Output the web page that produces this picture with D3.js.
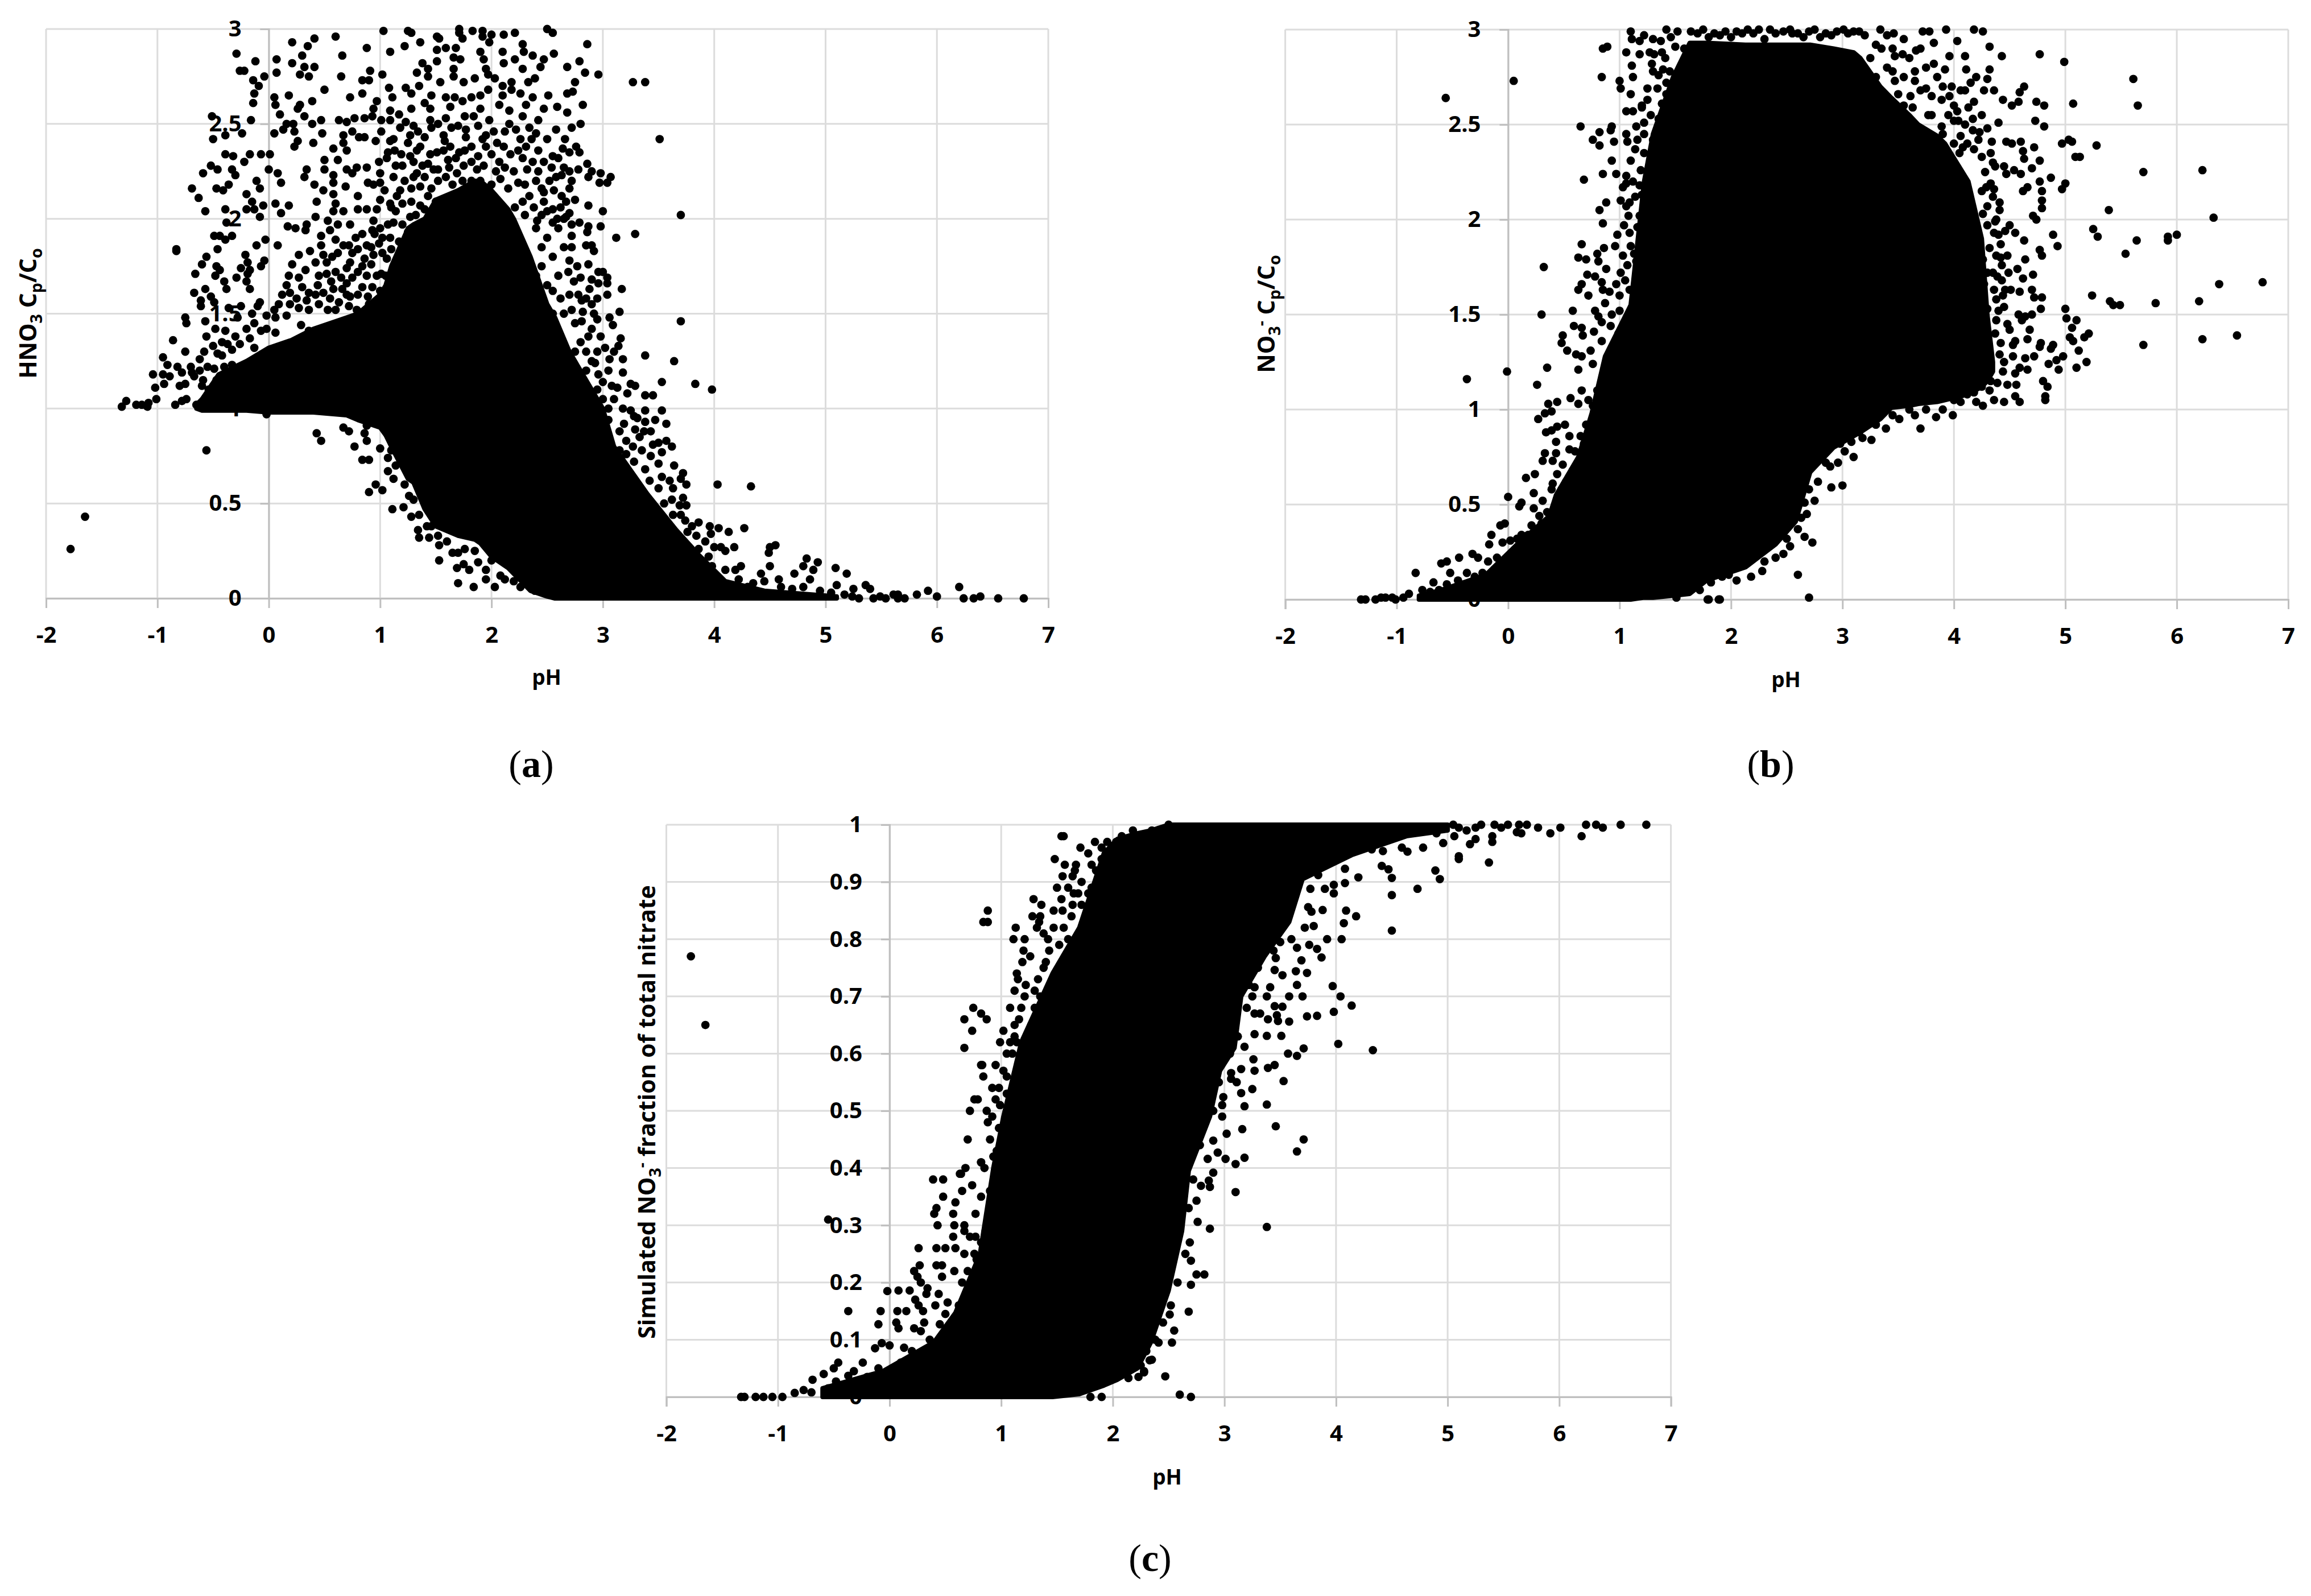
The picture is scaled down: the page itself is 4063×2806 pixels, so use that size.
<!DOCTYPE html>
<html>
<head>
<meta charset="utf-8">
<script src="https://cdn.jsdelivr.net/npm/d3@7"></script>
<style>
  body { margin: 0; background: #fff; }
  .tick text { font-family: "Open Sans", sans-serif; font-weight: 700; font-size: 40px; fill: #000; }
  .title { font-family: "Open Sans", sans-serif; font-weight: 700; fill: #000; }
  .caption { font-family: "Liberation Serif", serif; font-size: 68px; fill: #000; }
</style>
</head>
<body>
<svg width="4063" height="2806"></svg>
<script>
// tick labels
var xTicks = [-2, -1, 0, 1, 2, 3, 4, 5, 6, 7];
var ratioTicks = [0, 0.5, 1, 1.5, 2, 2.5, 3];
var fractionTicks = [0, 0.1, 0.2, 0.3, 0.4, 0.5, 0.6, 0.7, 0.8, 0.9, 1];

// solid black core of each cloud, where the dots merge: pH, lower edge, upper edge
var aCorePH = [-0.65, -0.6, -0.45, -0.2, 0, 0.2, 0.4, 0.7, 0.8, 1.0, 1.05, 1.1, 1.25, 1.3, 1.4, 1.5, 1.7, 1.85, 1.9, 2.0, 2.15, 2.2, 2.35, 2.5, 2.57, 2.7, 3.0, 3.1, 3.4, 3.66, 3.86, 4.1, 4.45, 5.1];
var aCoreLow = [1.0, 0.99, 0.99, 0.99, 0.98, 0.98, 0.98, 0.965, 0.94, 0.9, 0.86, 0.8, 0.63, 0.61, 0.47, 0.38, 0.33, 0.31, 0.29, 0.22, 0.16, 0.13, 0.04, 0.01, 0, 0, 0, 0, 0, 0, 0, 0, 0, 0];
var aCoreHigh = [1.02, 1.05, 1.18, 1.25, 1.32, 1.36, 1.42, 1.48, 1.5, 1.6, 1.65, 1.75, 1.95, 1.97, 2.0, 2.1, 2.15, 2.2, 2.2, 2.15, 2.05, 2.0, 1.8, 1.55, 1.48, 1.3, 1.0, 0.8, 0.55, 0.36, 0.23, 0.09, 0.04, 0.01];

var bCorePH = [-0.8, -0.6, -0.2, 0.08, 0.37, 0.43, 0.63, 0.75, 0.87, 1.10, 1.22, 1.3, 1.48, 1.63, 1.78, 2.13, 2.4, 2.58, 2.71, 2.92, 3.1, 3.16, 3.34, 3.44, 3.6, 3.68, 3.85, 3.92, 4.13, 4.25, 4.3, 4.35];
var bCoreLow = [0, 0, 0, 0, 0, 0, 0, 0, 0, 0, 0.01, 0.01, 0.02, 0.03, 0.1, 0.17, 0.29, 0.41, 0.67, 0.8, 0.86, 0.88, 0.95, 1.01, 1.02, 1.03, 1.04, 1.05, 1.08, 1.12, 1.15, 1.2];
var bCoreHigh = [0.02, 0.05, 0.13, 0.29, 0.44, 0.55, 0.75, 0.98, 1.28, 1.55, 2.2, 2.45, 2.75, 2.93, 2.93, 2.92, 2.92, 2.92, 2.92, 2.9, 2.88, 2.85, 2.7, 2.64, 2.55, 2.5, 2.44, 2.4, 2.2, 1.9, 1.5, 1.25];

var cCorePH = [-0.6, -0.06, 0.4, 0.59, 0.81, 0.93, 1.02, 1.18, 1.46, 1.7, 1.92, 2.04, 2.22, 2.34, 2.5, 2.62, 2.68, 2.87, 2.96, 3.09, 3.15, 3.36, 3.58, 3.7, 4.14, 4.63, 5.0];
var cCoreLow = [0, 0, 0, 0, 0, 0, 0, 0, 0, 0.005, 0.02, 0.03, 0.05, 0.095, 0.186, 0.29, 0.395, 0.49, 0.57, 0.61, 0.7, 0.77, 0.83, 0.905, 0.947, 0.98, 0.99];
var cCoreHigh = [0.015, 0.045, 0.096, 0.147, 0.25, 0.4, 0.49, 0.62, 0.74, 0.82, 0.95, 0.975, 0.985, 0.99, 1, 1, 1, 1, 1, 1, 1, 1, 1, 1, 1, 1, 1];

// separate dots around the core: [pH, value]
var aPoints = [[-0.29,2.87],[-0.12,2.83],[-0.26,2.78],[-0.22,2.78],[-0.04,2.75],[-0.14,2.73],[-0.09,2.70],[-0.13,2.66],[-0.14,2.61],[-0.16,2.52],[-0.51,2.54],[-0.50,2.42],[-0.39,2.44],[-0.24,2.45],[-0.39,2.34],[-0.32,2.33],[-0.22,2.30],[-0.17,2.34],[-0.07,2.34],[0.01,2.34],[-0.52,2.28],[-0.46,2.26],[-0.59,2.24],[-0.33,2.26],[-0.30,2.23],[-0.36,2.18],[-0.47,2.16],[-0.41,2.15],[0,2.26],[0.08,2.24],[0.11,2.19],[-0.11,2.20],[-0.08,2.16],[-0.69,2.16],[-0.63,2.11],[-0.57,2.04],[-0.39,2.05],[-0.20,2.13],[-0.15,2.09],[-0.20,2.05],[-0.13,2.05],[-0.08,2.01],[-0.05,2.07],[0.06,2.08],[0.11,2.03],[0.18,2.07],[-0.38,1.98],[-0.49,1.91],[-0.44,1.91],[-0.39,1.89],[-0.33,1.91],[-0.83,1.84],[-0.83,1.83],[-0.46,1.84],[-0.11,1.86],[-0.03,1.89],[0.08,1.86],[-0.56,1.80],[-0.60,1.76],[-0.66,1.71],[-0.47,1.75],[-0.44,1.73],[-0.48,1.70],[-0.21,1.81],[-0.19,1.77],[-0.25,1.74],[-0.17,1.73],[-0.19,1.71],[-0.04,1.78],[-0.07,1.75],[-0.29,1.69],[-0.40,1.67],[-0.20,1.67],[-0.17,1.63],[-0.38,1.63],[-0.57,1.63],[-0.67,1.61],[-0.52,1.59],[-0.61,1.57],[-0.61,1.54],[-0.49,1.56],[-0.08,1.56],[-0.36,1.53],[-0.25,1.54],[-0.75,1.48],[-0.74,1.45],[-0.57,1.46],[-0.39,1.41],[-0.56,1.38],[-0.86,1.36],[-0.75,1.30],[-0.37,1.34],[-0.26,1.34],
[0.07,2.84],[0.07,2.77],[0.21,2.93],[0.41,2.95],[0.35,2.91],[0.30,2.86],[0.21,2.82],[0.32,2.80],[0.41,2.80],[0.28,2.76],[0.36,2.75],[0.60,2.96],[0.66,2.86],[0.65,2.75],[0.88,2.90],[0.91,2.78],[0.84,2.73],[0.90,2.73],[1.03,2.99],[1.09,2.88],[1.02,2.76],[0.50,2.68],[0.18,2.65],[0.05,2.64],[0.06,2.60],[0.10,2.55],[0.39,2.62],[0.28,2.60],[0.26,2.58],[0.32,2.54],[0.73,2.64],[0.84,2.66],[0.97,2.62],[0.94,2.58],[1.08,2.69],[1.11,2.64],[1.09,2.57],[0.39,2.50],[0.47,2.52],[0.63,2.52],[0.70,2.51],[0.77,2.53],[0.86,2.53],[0.93,2.54],[1.01,2.52],[1.09,2.52],[0.16,2.50],[0.22,2.50],[0.05,2.45],[0.13,2.47],[0.23,2.46],[0.48,2.45],[0.26,2.41],[0.23,2.38],[0.40,2.40],[0.67,2.44],[0.67,2.40],[0.75,2.46],[0.81,2.43],[0.86,2.43],[0.96,2.41],[1.01,2.46],[0.58,2.37],[0.70,2.36],[0.50,2.31],[0.62,2.31],[0.50,2.26],[0.34,2.26],[0.32,2.22],[0.58,2.23],[0.70,2.26],[0.79,2.27],[0.88,2.27],[0.75,2.24],[0.99,2.30],[1.00,2.24],[0.58,2.19],[0.41,2.18],[0.49,2.15],[0.69,2.17],[0.89,2.19],[0.94,2.18],[1.0,2.19],[0.58,2.13],[0.43,2.09],[0.60,2.08],[0.80,2.12],[0.58,2.04],[0.67,2.04],[0.80,2.05],[0.88,2.05],[0.97,2.05],[0.42,2.01],[0.53,1.99],[0.34,1.97],[0.17,1.96],[0.24,1.95],[0.33,1.94],
[1.25,2.99],[1.28,2.98],[1.22,2.91],[1.36,2.93],[1.51,2.96],[1.53,2.95],[1.71,3.0],[1.71,2.98],[1.74,2.95],[1.83,2.99],[1.92,2.99],[1.92,2.96],[2.0,2.97],[1.98,2.93],[2.11,2.97],[2.21,2.98],[2.50,3.0],[2.55,2.98],[1.59,2.90],[1.51,2.89],[1.68,2.90],[1.90,2.88],[2.10,2.88],[2.28,2.92],[2.29,2.88],[2.37,2.86],[2.56,2.87],[2.47,2.84],[1.38,2.82],[1.51,2.83],[1.66,2.85],[1.72,2.84],[1.93,2.84],[2.11,2.82],[2.21,2.84],[2.44,2.80],[2.68,2.80],[2.28,2.79],[1.33,2.77],[1.43,2.79],[1.43,2.75],[1.66,2.79],[1.66,2.75],[1.95,2.79],[1.85,2.74],[1.97,2.76],[2.03,2.74],[2.18,2.72],[2.33,2.72],[2.39,2.74],[1.54,2.72],[1.75,2.72],[1.23,2.69],[1.35,2.70],[1.28,2.66],[1.97,2.68],[1.90,2.65],[2.10,2.70],[2.18,2.68],[2.10,2.65],[2.26,2.66],[1.46,2.65],[1.59,2.64],[1.67,2.64],[1.82,2.64],[1.40,2.61],[1.63,2.59],[1.74,2.62],[2.37,2.64],[2.51,2.65],[2.68,2.66],[1.90,2.58],[2.07,2.60],[2.16,2.57],[2.31,2.60],[2.47,2.58],[2.59,2.59],[2.68,2.56],[1.28,2.58],[1.17,2.55],[1.45,2.58],[1.45,2.52],[1.59,2.53],[1.76,2.54],[1.84,2.54],[1.98,2.52],[2.16,2.50],[2.28,2.54],[2.42,2.52],[1.23,2.51],[1.30,2.49],[1.46,2.48],[1.64,2.48],[1.77,2.47],[2.34,2.48],[1.27,2.44],[1.40,2.43],[1.57,2.44],[1.77,2.43],[1.95,2.44],[2.02,2.46],[2.26,2.42],[2.36,2.42],[1.09,2.41],[1.12,2.42],[1.33,2.36],[1.63,2.38],[1.82,2.38],[2.11,2.38],[2.64,2.37],[2.31,2.38],[1.07,2.35],[1.19,2.34],[1.51,2.35],[1.71,2.35],[1.95,2.38],[2.55,2.33],[1.06,2.32],[1.14,2.28],[1.38,2.28],[1.61,2.31],[1.82,2.30],[2.28,2.32],[2.37,2.30],[2.47,2.30],[1.33,2.24],[1.48,2.26],[1.69,2.24],[2.54,2.27],[2.65,2.27],[1.22,2.20],[1.40,2.22],[1.59,2.22],[1.82,2.20],[2.24,2.19],[2.52,2.20],[2.63,2.23],[1.28,2.16],[1.46,2.16],[1.04,2.15],[1.43,2.12],[2.34,2.12],[2.47,2.14],[2.63,2.12],[1.15,2.12],[1.28,2.09],[1.50,2.09],[1.59,2.09],[1.09,2.08],[1.36,2.07],[2.28,2.09],[2.21,2.06],[2.47,2.09],[2.67,2.09],[1.14,2.04],[1.27,2.01],[2.50,2.04],[2.41,1.99],[2.59,2.00],[2.67,2.01],
[0.62,1.97],[0.73,1.97],[0.94,1.99],[1.07,1.97],[1.2,1.97],[0.84,1.92],[0.99,1.87],[1.09,1.90],[0.93,1.94],[0.47,1.91],[0.47,1.86],[0.6,1.89],[0.67,1.86],[0.88,1.86],[1.25,1.93],[0.37,1.83],[0.49,1.81],[0.57,1.80],[0.27,1.81],[0.21,1.76],[0.75,1.82],[0.86,1.79],[0.94,1.81],[1.06,1.79],[0.73,1.77],[0.84,1.75],[1.01,1.71],[0.18,1.70],[0.27,1.69],[0.52,1.71],[0.65,1.69],[0.75,1.69],[0.88,1.70],[0.16,1.65],[0.56,1.67],[0.19,1.61],[0.44,1.65],[0.66,1.63],[0.84,1.64],[0.36,1.61],[0.49,1.61],[0.89,1.59],[0.34,1.57],[0.09,1.55],[0.19,1.55],[0.27,1.53],[0.45,1.55],[0.63,1.56],[0.73,1.59],[0.79,1.52],[-0.10,1.54],[-0.02,1.49],[0.06,1.48],[0.16,1.49],[0.36,1.52],[0.53,1.52],[-0.13,1.45],[-0.07,1.41],[0.06,1.40],[0.29,1.44],[0.49,1.38],[0.36,1.41],[-0.17,1.37],[-0.46,1.29],[-0.33,1.31],[-0.49,1.21],[-0.33,1.23],[-0.13,1.32],
[-0.95,1.27],[-0.91,1.23],[-0.82,1.22],[-0.78,1.19],[-1.04,1.18],[-0.95,1.18],[-0.89,1.17],[-0.94,1.13],[-1.02,1.11],[-0.80,1.12],[-0.75,1.13],[-0.69,1.19],[-0.62,1.20],[-0.67,1.17],[-0.59,1.15],[-1.01,1.05],[-1.28,1.04],[-1.32,1.01],[-1.19,1.02],[-1.14,1.02],[-1.09,1.01],[-1.08,1.03],[-0.84,1.02],[-0.78,1.04],[-0.74,1.05],[-0.65,1.02],[-0.02,0.97],[-0.56,0.78],[-1.65,0.43],[-1.78,0.26],
[0.43,0.87],[0.47,0.83],[0.67,0.90],[0.72,0.88],[0.88,0.91],[0.86,0.87],[0.88,0.83],[0.77,0.80],[0.84,0.73],[0.90,0.73],[1.0,0.79],[1.07,0.74],[1.07,0.67],[1.12,0.63],[1.14,0.70],[1.22,0.76],[0.96,0.60],[0.90,0.56],[1.02,0.57],[1.11,0.47],[1.21,0.48],[1.26,0.54],[1.28,0.43],[1.34,0.36],[1.35,0.32],[1.44,0.32],[1.53,0.28],[1.65,0.24],[1.53,0.20],[1.69,0.16],[1.70,0.08],[1.84,0.06],[2.03,0.06],[1.85,0.25],[1.80,0.15],[1.95,0.15],[2.26,0.06],[2.39,0.04],[1.46,0.38],[1.58,0.46],[1.76,0.26],
[2.86,2.92],[2.79,2.83],[2.84,2.77],[2.96,2.76],[2.75,2.72],[2.73,2.67],[3.27,2.72],[3.38,2.72],[3.51,2.42],[2.79,2.35],[2.86,2.29],[2.90,2.25],[2.87,2.22],[2.98,2.24],[2.97,2.19],[3.07,2.22],[3.04,2.19],[2.87,2.07],[3.0,2.04],[3.70,2.02],[2.79,1.98],[2.72,1.97],[2.87,1.96],[2.98,1.96],[2.86,1.93],[3.12,1.90],[3.29,1.92],[2.72,1.91],[2.85,1.86],[2.90,1.86],[2.92,1.83],[2.72,1.85],[2.77,1.75],[2.87,1.76],[2.96,1.72],[3,1.72],[2.69,1.72],[2.80,1.69],[2.74,1.67],[3.04,1.69],[2.96,1.66],[2.88,1.63],[3.04,1.66],[3.17,1.63],[3.04,1.60],[2.81,1.57],[2.82,1.51],[2.92,1.50],[3.15,1.51],[3.06,1.48],[2.95,1.47],[3.09,1.44],[2.81,1.46],[3.70,1.46],[2.90,1.42],[3.16,1.37],[2.87,1.38],[3.14,1.33],[3.38,1.28],[3.06,1.26],[3.18,1.26],[3.64,1.25],[2.93,1.24],[3.05,1.20],[3.18,1.19],[2.96,1.18],[3.53,1.14],[3.83,1.13],[3.98,1.10],[3.25,1.13],[3.13,1.11],[3.29,1.12],[3.38,1.07],[3.45,1.07],[3.22,1.08],[3.25,0.99],[3.38,0.99],[3.53,0.99],[3.31,0.95],[3.47,0.94],[3.57,0.92],[3.19,0.92],[3.29,0.89],[3.37,0.88],[3.33,0.85],[3.21,0.83],[3.45,0.81],[3.57,0.83],[3.62,0.80],[3.53,0.77],[3.27,0.80],[3.43,0.75],[3.21,0.76],[3.13,0.71],[3.50,0.71],[3.64,0.70],[3.38,0.68],[3.72,0.66],[3.22,0.66],[3.53,0.64],[3.70,0.63],[3.75,0.60],[4.03,0.60],[4.33,0.59],[3.63,0.58],[3.72,0.53],[3.69,0.49],[3.75,0.49],[3.63,0.44],[3.74,0.41],[3.86,0.40],[3.96,0.38],[4.04,0.37],[3.97,0.34],[4.13,0.35],[4.27,0.37],[3.76,0.35],[3.84,0.33],[3.86,0.26],[4.18,0.27],[4.06,0.27],[4.10,0.25],[4.55,0.28],[4.50,0.27],[4.49,0.24],[3.95,0.22],[4.24,0.17],[4.50,0.17],[4.19,0.15],[4.42,0.13],[4.83,0.21],[4.80,0.17],[4.93,0.19],[4.89,0.15],[5.09,0.16],[5.19,0.13],[4.72,0.13],[4.86,0.10],[4.58,0.10],[5.10,0.07],[5.25,0.05],[5.36,0.07],[5.40,0.05],[5.92,0.04],[6.20,0.06],[5.82,0.02],[5.17,0.02],[5.24,0.01],[5.30,0],[5.43,0],[5.49,0.01],[5.54,0],[5.61,0.02],[5.65,0.02],[5.65,0],[5.71,0],[6.0,0.01],[6.24,0],[6.33,0],[6.39,0.01],[6.55,0],[6.78,0],
[2.4,1.95],[2.45,1.85],[2.5,1.9],[2.55,1.8],[2.6,1.95],[2.65,1.85],[2.7,1.78],[2.4,1.7],[2.5,1.65],[2.6,1.7],[2.7,1.6],[2.45,1.55],[2.55,1.5],[2.65,1.5],[2.75,1.45],[2.8,1.35],[2.85,1.3],[2.9,1.25],[2.75,1.3],[2.95,1.1],[3.0,1.05],[3.05,1.0],[2.65,2.0],[2.55,2.05]];

// dots of the busier fringe, estimated where they crowd together
var aMorePoints = [[1.18,2.48],[1.25,2.40],[1.34,2.46],[1.52,2.50],[1.58,2.41],[1.70,2.49],[1.88,2.49],[1.92,2.42],[2.05,2.40],[2.12,2.46],[2.22,2.47],[2.40,2.45],[2.50,2.42],[2.58,2.47],[2.66,2.42],[1.13,2.36],[1.27,2.33],[1.36,2.38],[1.45,2.34],[1.57,2.36],[1.68,2.32],[1.76,2.36],[1.88,2.33],[2.0,2.34],[2.07,2.30],[2.17,2.34],[2.24,2.36],[2.42,2.36],[2.6,2.32],[2.7,2.35],[1.2,2.28],[1.3,2.30],[1.43,2.29],[1.52,2.26],[1.62,2.27],[1.75,2.28],[1.87,2.26],[1.93,2.28],[2.04,2.25],[2.12,2.27],[2.2,2.25],[2.32,2.26],[2.42,2.25],[2.58,2.22],[2.7,2.25],[1.12,2.22],[1.18,2.15],[1.3,2.22],[1.36,2.17],[1.52,2.2],[1.65,2.18],[1.74,2.2],[1.9,2.2],[2.0,2.18],[2.08,2.21],[2.15,2.16],[2.3,2.18],[2.4,2.2],[2.45,2.16],[2.56,2.15],[2.7,2.16],[1.0,2.1],[1.1,2.06],[1.2,2.08],[1.32,2.02],[1.4,2.05],[2.38,2.06],[2.3,2.02],[2.45,2.02],[2.55,1.98],[2.62,2.06],[2.7,2.03],[2.75,2.1],[2.72,2.2],[2.78,2.26],[2.76,2.38],[2.72,2.48],[2.8,2.5],[2.82,2.6],[1.0,1.95],[1.12,1.98],[1.02,1.9],[1.17,1.88],[0.95,1.92],[0.78,1.9],[0.55,1.94],[0.72,1.86],[0.62,1.82],[0.8,1.84],[0.92,1.85],[1.02,1.82],[1.1,1.84],[0.42,1.77],[0.52,1.77],[0.7,1.74],[0.8,1.72],[0.92,1.76],[0.97,1.7],[1.05,1.7],[0.33,1.73],[0.45,1.7],[0.6,1.72],[0.7,1.66],[0.58,1.63],[0.93,1.64],[1.0,1.62],[0.3,1.64],[0.42,1.6],[0.55,1.58],[0.7,1.6],[0.8,1.6],[0.12,1.6],[0.25,1.58],[0.05,1.52],[0.9,1.55],[0.6,1.52],[0.72,1.54],[-0.28,1.48],[-0.2,1.42],[-0.3,1.38],[-0.42,1.35],[-0.15,1.5],[-0.02,1.42],[-0.48,1.42],[-0.58,1.3],[-0.5,1.33],[-0.62,1.26],[-0.7,1.22],[-0.55,1.22],[-0.6,1.12],[-0.54,1.1],[-0.47,1.15],[-0.4,1.22],[-0.42,1.28],[2.45,1.75],[2.55,1.62],[2.62,1.58],[2.72,1.52],[2.78,1.6],[2.85,1.58],[2.9,1.68],[2.95,1.58],[2.9,1.55],[2.98,1.38],[3.02,1.32],[2.95,1.3],[3.1,1.3],[2.85,1.2],[3.0,1.14],[3.08,1.12],[3.1,1.05],[3.18,1.0],[3.05,0.94],[3.15,0.88],[3.28,0.96],[3.38,0.93],[3.43,0.88],[3.15,0.78],[3.28,0.72],[3.35,0.78],[3.5,0.82],[3.42,0.62],[3.5,0.58],[3.6,0.62],[3.55,0.5],[3.62,0.52],[3.7,0.44],[3.8,0.38],[3.92,0.3],[4.0,0.27],[3.98,0.17],[4.1,0.15],[4.22,0.1],[4.35,0.08],[4.45,0.09],[4.6,0.06],[4.7,0.05],[4.8,0.06],[4.95,0.04],[5.05,0.03],[4.3,0.06],[1.3,0.52],[1.22,0.6],[1.1,0.78],[1.35,0.44],[1.42,0.38],[1.52,0.33],[1.6,0.3],[1.7,0.24],[1.75,0.18],[1.88,0.19],[2.0,0.2],[2.08,0.12],[2.12,0.1],[2.2,0.09],[1.95,0.1]];

var bPoints = [[-0.56,2.64],[0.05,2.73],[0.84,2.75],[0.85,2.90],[0.89,2.91],[1.06,2.88],[1.10,2.99],[1.11,2.95],[1.22,2.97],[1.18,2.94],[1.42,3.0],[1.64,2.99],[1.37,2.94],[1.18,2.87],[1.31,2.87],[1.41,2.85],[1.50,2.91],[1.11,2.81],[1.29,2.82],[1.39,2.79],[1.35,2.76],[1.12,2.75],[1.0,2.73],[1.01,2.69],[1.10,2.66],[1.25,2.69],[1.34,2.69],[1.42,2.72],[1.25,2.63],[1.20,2.59],[1.38,2.61],[1.48,2.60],[1.06,2.57],[1.12,2.57],[0.65,2.49],[0.82,2.46],[0.93,2.49],[0.92,2.47],[0.76,2.42],[0.82,2.39],[0.95,2.41],[1.06,2.45],[1.07,2.41],[1.15,2.49],[1.22,2.51],[1.35,2.53],[0.93,2.31],[0.85,2.24],[0.97,2.24],[0.68,2.21],[1.14,2.37],[1.10,2.31],[1.06,2.23],[1.03,2.17],[1.06,2.19],[1.19,2.26],[1.22,2.35],[0.88,2.09],[1.01,2.10],[0.82,2.05],[1.06,2.07],[1.09,2.09],[0.85,1.98],[1.04,1.97],[1.09,1.93],[0.98,1.92],[1.18,2.02],[1.20,2.13],[1.28,2.09],[0.66,1.87],[0.86,1.85],[0.96,1.86],[0.63,1.80],[0.70,1.79],[0.80,1.82],[0.81,1.78],[1.03,1.81],[1.13,1.82],[0.32,1.75],[1.07,1.76],[1.01,1.72],[0.88,1.74],[0.71,1.71],[0.78,1.70],[0.84,1.67],[0.66,1.66],[0.63,1.63],[0.97,1.66],[0.85,1.63],[0.72,1.60],[0.91,1.62],[1.09,1.63],[1.0,1.60],[0.87,1.56],[0.58,1.52],[0.30,1.50],[0.78,1.52],[0.93,1.50],[0.81,1.49],[0.84,1.46],[1.06,1.47],[0.59,1.44],[0.66,1.43],[0.92,1.44],[0.77,1.41],[1.09,1.43],[0.49,1.39],[0.67,1.39],[0.99,1.40],[0.48,1.35],[0.84,1.36],[0.53,1.31],[0.61,1.29],[0.66,1.28],[0.74,1.31],[0.76,1.24],
[-0.37,1.16],[-0.01,1.20],[0.35,1.22],[0.26,1.13],[0.63,1.21],[0.66,1.10],[0.56,1.06],[0.63,1.03],[0.44,1.04],[0.36,1.03],[0.33,0.98],[0.39,0.99],[0.27,0.95],[0.51,0.92],[0.44,0.91],[0.39,0.89],[0.34,0.88],[0.65,0.86],[0.55,0.86],[0.43,0.83],[0.33,0.77],[0.43,0.77],[0.31,0.73],[0.40,0.73],[0.55,0.79],[0.49,0.71],[0.24,0.66],[0.16,0.64],[0.44,0.66],[0.40,0.61],[0.39,0.58],[0.23,0.56],[0,0.54],[0.12,0.51],[0.10,0.49],[0.31,0.52],[0.23,0.48],[0.28,0.44],[-0.03,0.40],[-0.07,0.39],[0.21,0.39],[-0.15,0.34],[0.12,0.34],[-0.17,0.29],[0.02,0.31],[-0.05,0.30],[-0.32,0.24],[-0.44,0.22],[-0.27,0.22],[-0.55,0.20],[-0.60,0.19],[-0.18,0.20],[-0.83,0.14],[-0.52,0.14],[-0.37,0.14],[-0.23,0.14],[-0.67,0.09],[-0.77,0.05],[-0.89,0.03],[-1.32,0],[-1.28,0],[-1.19,0],[-1.14,0.01],[-1.10,0.01],[-1.04,0.01],[-1.01,0],[-0.94,0.01],[1.79,0],[1.89,0],[1.51,0.01],[1.72,0.05],[1.82,0.09],[1.92,0.12],[1.98,0.13],
[2.15,3],[2.53,3],[2.75,3],[3.01,3],[3.34,3],[3.46,2.98],[3.72,2.99],[3.78,2.99],[3.93,3],[4.18,3],[4.26,2.99],[4.32,2.91],[4.03,2.94],[3.82,2.93],[3.66,2.89],[3.54,2.87],[3.47,2.86],[3.96,2.86],[4.10,2.86],[4.43,2.86],[4.77,2.87],[4.99,2.83],[3.82,2.82],[4.32,2.79],[3.92,2.79],[4.11,2.79],[4.20,2.75],[4.30,2.74],[5.61,2.74],[5.65,2.60],[3.65,2.73],[3.47,2.73],[3.75,2.69],[3.98,2.70],[4.06,2.68],[4.27,2.68],[4.36,2.68],[4.63,2.70],[4.59,2.67],[4.44,2.63],[4.52,2.60],[4.58,2.62],[4.74,2.62],[4.81,2.60],[5.07,2.61],[3.61,2.65],[3.89,2.63],[4.18,2.62],[3.96,2.65],[3.63,2.59],[4.03,2.57],[4.13,2.59],[3.77,2.55],[4.17,2.53],[4.40,2.51],[4.73,2.52],[4.81,2.49],[3.89,2.49],[4.04,2.52],[4.17,2.47],[4.23,2.46],[4.06,2.44],[4.22,2.42],[4.47,2.41],[4.34,2.41],[4.52,2.40],[4.60,2.41],[4.97,2.40],[5.03,2.42],[5.06,2.41],[5.28,2.39],[4.72,2.38],[4.08,2.38],[4.18,2.37],[4.33,2.35],[4.62,2.36],[4.63,2.32],[5.09,2.33],[5.13,2.33],[4.25,2.33],[4.77,2.31],[4.37,2.28],[4.70,2.27],[4.45,2.28],[4.54,2.26],[4.60,2.24],[5.70,2.25],[6.23,2.26],[4.47,2.24],[4.87,2.22],[4.77,2.20],[5.0,2.19],[4.33,2.19],[4.97,2.16],[4.66,2.17],[4.62,2.15],[4.79,2.15],[4.29,2.17],[4.36,2.16],[4.79,2.10],[4.41,2.09],[4.79,2.06],[4.30,2.07],[5.39,2.05],[4.41,2.05],[4.26,2.03],[4.71,2.02],[4.74,2.0],[6.33,2.01],[4.37,1.99],[4.50,1.97],[4.20,1.95],[5.25,1.95],[4.46,1.94],[4.55,1.93],[4.89,1.92],[5.29,1.91],[6.0,1.92],[5.92,1.91],[5.64,1.89],[5.92,1.89],[4.63,1.89],[4.36,1.93],[4.22,1.90],[4.93,1.86],[4.42,1.87],[4.32,1.85],[4.77,1.84],[4.79,1.81],[5.54,1.82],[4.17,1.81],[4.38,1.81],[4.26,1.79],[4.48,1.81],[4.64,1.79],[4.22,1.78],[4.43,1.76],[4.57,1.74],[4.49,1.72],[4.71,1.71],[4.30,1.72],[4.39,1.70],[4.62,1.69],[6.77,1.67],[4.43,1.68],[6.38,1.66],[4.27,1.66],[4.70,1.63],[4.36,1.63],[4.46,1.63],[4.59,1.62],[4.51,1.63],[5.24,1.60],[4.72,1.59],[4.79,1.59],[4.44,1.60],[4.38,1.58],[5.40,1.57],[5.43,1.55],[5.49,1.55],[5.81,1.56],[6.20,1.57],[4.45,1.54],[4.78,1.53],[5.0,1.53],[4.30,1.53],[4.70,1.50],[4.64,1.49],[4.58,1.50],[5.01,1.48],[5.10,1.47],[4.61,1.47],[4.38,1.47],[5.06,1.43],[4.68,1.42],[5.21,1.40],[4.37,1.40],[5.17,1.38],[5.04,1.38],[4.66,1.37],[6.54,1.39],[6.23,1.37],[5.07,1.36],[4.55,1.36],[4.78,1.35],[4.89,1.34],[5.70,1.34],[4.77,1.33],[4.87,1.32],[5.12,1.31],[4.53,1.34],[4.41,1.29],[4.72,1.28],[4.98,1.28],[4.53,1.28],[4.64,1.27],[4.92,1.26],[5.19,1.25],[4.85,1.24],[5.10,1.22],[4.59,1.22],[4.66,1.21],[4.94,1.21],[4.44,1.20],[4.55,1.19],[4.80,1.15],[4.56,1.13],[4.39,1.14],[4.48,1.13],[4.84,1.12],[4.18,1.09],[4.32,1.10],[4.82,1.07],[4.82,1.05],[4.36,1.05],[4.45,1.04],[4.59,1.04],[4.55,1.07],[4.20,1.04],[4.26,1.02],[4.06,1.04],[3.99,0.97],[3.84,0.96],[3.70,0.90],[3.51,0.95],[3.39,0.90],[3.65,0.97],[3.26,0.84],[3.18,0.85],[3.10,0.75],[3.02,0.78],[3.0,0.60],[2.90,0.59],[2.96,0.72],[2.89,0.70],[2.75,0.52],[2.66,0.51],[2.73,0.30],[2.63,0.43],[2.66,0.33],[2.53,0.28],[2.47,0.24],[2.28,0.15],[2.60,0.13],[2.70,0.01],[1.90,0],[1.80,0],
[1.8,2.96],[1.9,2.97],[2.0,2.96],[2.1,2.98],[2.2,2.98],[2.3,2.95],[2.4,2.98],[2.47,2.99],[2.6,2.98],[2.65,2.96],[2.8,2.96],[2.85,2.98],[2.9,2.97],[2.95,2.99],[3.05,2.98],[3.1,2.99],[3.15,2.99],[3.2,2.97],[3.3,2.92],[3.4,2.97],[3.25,2.85],[3.35,2.9],[3.4,2.8],[3.45,2.78],[3.3,2.75],[3.5,2.66],[3.55,2.6],[3.4,2.5],[3.6,2.5],[3.7,2.45],[3.8,2.55],[3.9,2.45],[3.95,2.35],[4.05,2.35],[4.1,2.2],[4.05,2.1],[4.0,2.4],[3.75,2.35]];

var bMorePoints = [[1.2,2.6],[1.28,2.55],[1.22,2.45],[1.3,2.42],[1.16,2.42],[1.12,2.2],[1.18,2.18],[1.14,2.12],[1.08,2.02],[1.16,1.96],[1.1,1.86],[1.15,1.78],[1.05,1.68],[1.0,1.52],[1.02,1.38],[0.95,1.33],[0.92,1.27],[0.86,1.2],[0.8,1.1],[0.76,1.02],[0.72,1.05],[0.7,0.92],[0.68,0.82],[0.6,0.78],[0.58,0.68],[0.52,0.62],[0.48,0.58],[0.35,0.46],[0.3,0.4],[0.18,0.34],[0.08,0.32],[-0.1,0.22],[-0.12,0.16],[-0.3,0.12],[-0.45,0.1],[-0.55,0.08],[-0.62,0.05],[-0.7,0.04],[-0.75,0.02],[1.3,2.78],[1.38,2.88],[1.46,2.96],[1.52,2.99],[1.3,2.95],[1.27,2.88],[1.45,2.78],[1.48,2.7],[1.55,2.8],[1.58,2.9],[1.42,2.66],[1.55,2.68],[1.7,2.98],[1.75,3.0],[1.85,2.98],[1.95,2.99],[2.05,2.99],[2.25,3.0],[2.35,3.0],[2.55,2.98],[2.7,2.99],[3.45,2.9],[3.55,2.95],[3.6,2.85],[3.7,2.9],[3.75,2.8],[3.85,2.75],[3.55,2.75],[3.65,2.78],[3.7,2.68],[3.8,2.65],[3.9,2.7],[4.0,2.6],[4.1,2.68],[4.15,2.72],[3.95,2.55],[4.0,2.52],[4.1,2.5],[4.12,2.4],[4.25,2.55],[4.3,2.48],[4.28,2.25],[4.35,2.3],[4.25,2.15],[4.35,2.12],[4.38,2.0],[4.3,1.97],[4.4,1.92],[4.42,1.8],[4.35,1.72],[4.4,1.52],[4.48,1.45],[4.42,1.35],[4.5,1.42],[4.45,1.25],[4.33,1.15],[4.25,1.12],[4.12,1.08],[4.0,1.05],[3.9,1.0],[3.75,1.0],[3.6,1.0],[3.45,0.97],[3.3,0.92],[3.15,0.88],[3.08,0.83],[2.98,0.82],[2.85,0.72],[2.78,0.62],[2.7,0.58],[2.68,0.45],[2.6,0.37],[2.5,0.32],[2.4,0.22],[2.3,0.2],[2.18,0.12],[2.05,0.1]];

var cPoints = [[-1.78,0.77],[-1.65,0.65],[1.54,0.98],[1.56,0.98],[1.71,0.96],[1.84,0.97],[1.78,0.95],[1.90,0.96],[2.01,0.95],[2.08,0.98],[2.03,0.97],[2.24,0.98],[2.31,0.98],[1.48,0.94],[1.57,0.93],[1.67,0.93],[1.66,0.92],[1.81,0.93],[1.50,0.89],[1.55,0.91],[1.64,0.91],[1.72,0.90],[1.60,0.89],[1.81,0.89],[1.69,0.88],[1.54,0.87],[1.64,0.86],[1.29,0.87],[1.36,0.86],[0.88,0.85],[0.84,0.83],[0.88,0.83],[1.47,0.85],[1.55,0.85],[1.28,0.84],[1.35,0.84],[1.63,0.84],[1.34,0.83],[1.13,0.82],[1.11,0.80],[1.32,0.82],[1.47,0.82],[1.56,0.82],[1.38,0.81],[1.21,0.80],[1.20,0.78],[1.43,0.78],[1.26,0.77],[1.19,0.76],[1.14,0.74],[1.38,0.75],[1.33,0.73],[1.15,0.73],[1.22,0.72],[1.12,0.71],[1.21,0.70],[1.30,0.71],[0.75,0.68],[1.08,0.68],[1.18,0.68],[0.82,0.67],[0.87,0.66],[0.67,0.66],[1.16,0.66],[1.12,0.65],[1.02,0.64],[0.74,0.64],[1.27,0.65],[1.12,0.63],[0.99,0.62],[1.08,0.62],[0.67,0.61],[1.19,0.61],[1.18,0.60],[1.05,0.60],[0.95,0.58],[0.82,0.58],[0.83,0.58],[1.02,0.57],[1.15,0.57],[0.84,0.56],[1.32,0.58],[0.92,0.54],[0.98,0.54],[1.13,0.55],[0.95,0.52],[0.79,0.52],[1.05,0.53],[0.76,0.52],[1.10,0.52],[0.72,0.50],[0.87,0.50],[0.99,0.51],[1.26,0.51],[0.92,0.49],[1.07,0.49],[0.88,0.48],[0.98,0.47],[0.70,0.45],[0.90,0.45],[1.02,0.46],[0.96,0.43],[0.93,0.42],[0.82,0.41],[0.68,0.40],[0.63,0.39],
[0.39,0.38],[0.48,0.38],[0.64,0.39],[0.82,0.41],[0.74,0.37],[0.65,0.36],[0.48,0.35],[0.82,0.35],[0.42,0.33],[0.59,0.34],[0.40,0.32],[0.57,0.32],[-0.55,0.31],[0.77,0.32],[0.43,0.30],[0.58,0.30],[0.67,0.30],[0.86,0.29],[0.67,0.29],[0.57,0.28],[0.77,0.28],[0.26,0.26],[0.42,0.26],[0.50,0.26],[0.59,0.26],[0.67,0.25],[0.82,0.27],[0.42,0.23],[0.47,0.23],[0.76,0.25],[0.27,0.23],[0.22,0.22],[0.47,0.21],[0.58,0.22],[0.25,0.21],[0.70,0.22],[0.65,0.20],[0.76,0.20],[0.28,0.20],[0.34,0.19],[-0.02,0.185],[0.08,0.186],[0.18,0.186],[0.33,0.18],[0.44,0.18],[0.23,0.17],[0.52,0.165],[0.26,0.16],[-0.37,0.15],[-0.08,0.15],[0.41,0.16],[0.07,0.15],[0.15,0.15],[0.30,0.15],[0.50,0.145],[0.67,0.155],[-0.10,0.127],[0.06,0.13],[0.22,0.12],[0.31,0.13],[0.08,0.12],[0.45,0.127],[0.28,0.115],[0.36,0.10],[-0.07,0.094],[0,0.09],[-0.13,0.085],[0.42,0.094],[0.29,0.073],[0.13,0.086],[-0.24,0.06],[-0.46,0.06],[-0.50,0.05],[-0.59,0.04],[-0.69,0.03],[-0.32,0.045],[-0.37,0.037],[-0.48,0.027],[-1.33,0],[-1.30,0],[-1.20,0],[-1.13,0],[-1.05,0],[-0.96,0],[-0.85,0.007],[-0.77,0.012],[1.80,0],[1.90,0],[2.14,0.033],[2.23,0.035],[2.28,0.045],[2.35,0.065],
[5.42,1],[5.48,0.995],[5.54,1],[5.64,1],[5.71,1],[5.81,0.995],[5.92,0.985],[6.01,0.995],[6.24,1],[6.33,1],[6.39,0.995],[6.55,1],[6.78,1],[6.20,0.98],[5.62,0.987],[5.66,0.985],[5.40,0.98],[5.40,0.97],[5.37,0.934],[5.25,0.995],[5.30,1],[5.17,0.99],[5.06,0.98],[5.25,0.975],[5.20,0.966],[5.10,0.945],[5.10,0.94],[4.96,0.968],[4.89,0.92],[4.93,0.905],[4.73,0.888],[4.78,0.96],[4.64,0.953],[4.59,0.96],[4.50,0.907],[4.41,0.928],[4.47,0.922],[4.50,0.877],[4.50,0.815],[4.42,0.954],[4.32,0.957],[4.18,0.84],[4.20,0.908],[4.09,0.85],[4.07,0.828],[4.05,0.80],[4.08,0.898],[3.98,0.895],[3.98,0.88],[3.90,0.888],[3.88,0.851],[3.92,0.80],[4.08,0.923],[3.84,0.912],[3.77,0.888],[3.75,0.856],[3.78,0.848],[3.72,0.82],[3.80,0.823],[3.50,0.795],[3.60,0.80],[3.65,0.785],[3.76,0.79],[3.83,0.783],[3.87,0.768],[3.69,0.763],[3.44,0.78],[3.46,0.767],[3.45,0.746],[3.64,0.744],[3.74,0.741],[3.52,0.737],[3.97,0.718],[4.04,0.70],[3.65,0.72],[3.41,0.716],[3.27,0.716],[3.58,0.70],[3.70,0.70],[3.38,0.70],[3.25,0.70],[4.14,0.684],[3.45,0.683],[3.52,0.682],[3.98,0.673],[3.27,0.67],[3.32,0.67],[3.47,0.667],[3.74,0.665],[3.83,0.666],[3.39,0.66],[3.48,0.657],[3.58,0.656],[3.27,0.634],[3.38,0.631],[3.51,0.631],[4.02,0.617],[4.33,0.606],[3.71,0.609],[3.57,0.6],[3.65,0.596],[3.18,0.612],[3.26,0.59],[3.15,0.573],[3.27,0.57],[3.39,0.575],[3.45,0.58],[3.06,0.566],[3.06,0.556],[3.11,0.55],[3.53,0.552],[3.25,0.538],[3.15,0.531],[2.99,0.524],[3.18,0.508],[3.38,0.511],[2.98,0.51],[2.98,0.49],[3.46,0.473],[3.16,0.468],[3.02,0.46],[3.71,0.45],[3.65,0.429],[2.90,0.448],[2.94,0.427],[3.01,0.416],[3.18,0.418],[3.10,0.407],[2.85,0.416],[2.90,0.392],[2.86,0.378],[3.10,0.358],[2.87,0.367],[2.79,0.369],[2.75,0.343],[3.38,0.297],[2.87,0.294],[2.76,0.306],[2.69,0.27],[2.70,0.238],[2.82,0.214],[2.75,0.214],[2.70,0.196],[2.68,0.149],[2.51,0.144],[2.55,0.116],[2.53,0.095],[2.41,0.095],[2.33,0.064],[2.28,0.043],[2.47,0.036],[2.60,0.004],[2.70,0]];

var cMorePoints = [[0.85,0.4],[0.9,0.36],[0.72,0.28],[0.78,0.24],[0.7,0.18],[0.62,0.16],[0.55,0.12],[0.45,0.1],[0.38,0.08],[0.2,0.08],[0.1,0.06],[-0.1,0.05],[-0.2,0.035],[-0.4,0.02],[-0.55,0.015],[-0.7,0.008],[1.0,0.45],[1.05,0.56],[1.1,0.6],[1.14,0.62],[1.25,0.62],[1.3,0.68],[1.35,0.7],[1.4,0.76],[1.42,0.8],[1.52,0.79],[1.6,0.8],[1.65,0.88],[1.72,0.86],[1.78,0.88],[1.85,0.92],[1.9,0.94],[1.95,0.97],[2.12,0.97],[2.18,0.99],[2.35,0.99],[2.5,1.0],[1.1,0.47],[1.15,0.5],[2.9,0.5],[2.95,0.55],[3.05,0.6],[3.12,0.63],[3.2,0.68],[3.22,0.72],[3.3,0.75],[3.42,0.8],[3.55,0.85],[3.62,0.87],[3.7,0.92],[3.88,0.93],[3.95,0.95],[4.1,0.96],[4.3,0.97],[4.4,0.98],[4.6,0.985],[4.8,0.99],[4.9,0.985],[5.05,1.0],[5.1,0.995],[2.78,0.44],[2.72,0.38],[2.68,0.33],[2.65,0.25],[2.58,0.2],[2.52,0.16],[2.45,0.13],[2.38,0.1],[2.3,0.08],[2.25,0.055]];

var svg = d3.select("svg");

// axis title with sub and superscript pieces: [text, "sub" | "sup" | undefined]
var aTitle = [["HNO"], ["3", "sub"], [" C"], ["p", "sub"], ["/C"], ["o", "sub"]];
var bTitle = [["NO"], ["3", "sub"], ["-", "sup"], [" C"], ["p", "sub"], ["/C"], ["o", "sub"]];
var cTitle = [["Simulated NO"], ["3", "sub"], ["-", "sup"], [" fraction of total nitrate"]];

function drawPanel(p) {
  var x = d3.scaleLinear().domain([-2, 7]).range([p.left, p.right]),
      y = d3.scaleLinear().domain(p.yDomain).range([p.bottom, p.top]);

  // grid
  svg.append("g").selectAll("line").data(xTicks).enter().append("line")
      .attr("x1", function(d) { return x(d); }).attr("x2", function(d) { return x(d); })
      .attr("y1", p.top).attr("y2", p.bottom)
      .attr("stroke", "#dcdcdc").attr("stroke-width", 3);
  svg.append("g").selectAll("line").data(p.yTicks).enter().append("line")
      .attr("x1", p.left).attr("x2", p.right)
      .attr("y1", function(d) { return y(d); }).attr("y2", function(d) { return y(d); })
      .attr("stroke", "#dcdcdc").attr("stroke-width", 3);

  // axes, the y axis crosses at pH 0
  var xAxis = svg.append("g")
      .attr("transform", "translate(0," + p.bottom + ")")
      .call(d3.axisBottom(x).tickValues(xTicks).tickFormat(function(d) { return d; }).tickSize(17).tickPadding(33));
  var yAxis = svg.append("g")
      .attr("transform", "translate(" + x(0) + ",0)")
      .call(d3.axisLeft(y).tickValues(p.yTicks).tickFormat(function(d) { return d; }).tickSize(15).tickPadding(33));
  [xAxis, yAxis].forEach(function(a) {
    a.selectAll("line, path").attr("stroke", "#bfbfbf").attr("stroke-width", 3);
    a.attr("font-family", null).attr("font-size", null);
  });

  // solid core, then the single dots
  var core = p.corePH.map(function(d, i) { return {ph: d, low: p.coreLow[i], high: p.coreHigh[i]}; });
  svg.append("path").datum(core)
      .attr("d", d3.area().x(function(d) { return x(d.ph); }).y0(function(d) { return y(d.low); }).y1(function(d) { return y(d.high); }))
      .attr("fill", "#000").attr("stroke", "#000").attr("stroke-width", 8).attr("stroke-linejoin", "round");
  svg.append("g").selectAll("circle").data(p.points).enter().append("circle")
      .attr("cx", function(d) { return x(d[0]); })
      .attr("cy", function(d) { return y(d[1]); })
      .attr("r", 7.4)
      .attr("fill", "#000");

  svg.append("text").attr("class", "title").attr("x", p.phX).attr("y", p.phY)
      .attr("text-anchor", "middle").attr("font-size", 37).text("pH");

  var t = svg.append("text").attr("class", "title")
      .attr("transform", "translate(" + p.titleX + "," + p.titleY + ") rotate(-90)")
      .attr("text-anchor", "middle").attr("font-size", p.titleSize);
  var prev = 0;
  p.title.forEach(function(part) {
    var shift = part[1] === "sub" ? 10 : part[1] === "sup" ? -14 : 0;
    t.append("tspan").attr("font-size", part[1] ? p.titleSize * 0.7 : p.titleSize)
        .attr("dy", shift - prev).text(part[0]);
    prev = shift;
  });

  var c = svg.append("text").attr("class", "caption").attr("x", p.capX).attr("y", p.capY).attr("text-anchor", "middle");
  c.append("tspan").text("(");
  c.append("tspan").attr("font-weight", 700).text(p.cap);
  c.append("tspan").text(")");
}

drawPanel({left: 81, right: 1843, top: 51, bottom: 1052, yDomain: [0, 3], yTicks: ratioTicks,
  corePH: aCorePH, coreLow: aCoreLow, coreHigh: aCoreHigh, points: aPoints.concat(aMorePoints),
  title: aTitle, titleX: 64, titleY: 551, titleSize: 41, phX: 961, phY: 1204, cap: "a", capX: 934, capY: 1366});
drawPanel({left: 2259.6, right: 4023, top: 52, bottom: 1054, yDomain: [0, 3], yTicks: ratioTicks,
  corePH: bCorePH, coreLow: bCoreLow, coreHigh: bCoreHigh, points: bPoints.concat(bMorePoints),
  title: bTitle, titleX: 2241, titleY: 552, titleSize: 41, phX: 3140, phY: 1208, cap: "b", capX: 3113, capY: 1366});
drawPanel({left: 1171.5, right: 2937.6, top: 1450, bottom: 2456, yDomain: [0, 1], yTicks: fractionTicks,
  corePH: cCorePH, coreLow: cCoreLow, coreHigh: cCoreHigh, points: cPoints.concat(cMorePoints),
  title: cTitle, titleX: 1151.5, titleY: 1955, titleSize: 41, phX: 2052, phY: 2610, cap: "c", capX: 2022, capY: 2762});
</script>
</body>
</html>
